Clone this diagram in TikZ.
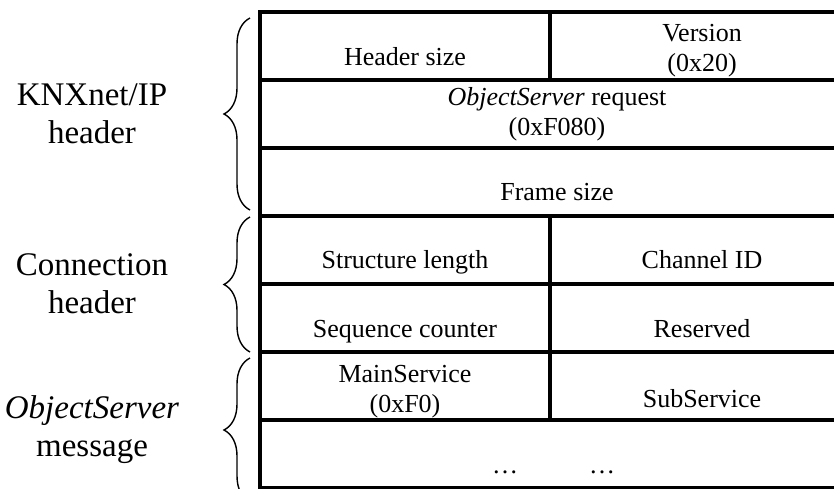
\documentclass[tikz,border=0pt]{standalone}
\usepackage{fontspec}
\setmainfont{Liberation Serif}
\usetikzlibrary{decorations.pathreplacing}
\tikzset{
  grid/.style={line width=3.5pt},
  cell/.style={font=\fontsize{26}{30}\selectfont,align=center},
  group/.style={font=\fontsize{33}{38}\selectfont,align=center},
  curly/.style={decorate,decoration={brace,amplitude=26pt},line width=1.4pt}
}
\begin{document}
\begin{tikzpicture}[x=1pt,y=-1pt]
\useasboundingbox (0,0) rectangle (834,488);
\draw[grid] (260,12) rectangle (854,488);
\foreach \y in {80,148,216,284,352,420}
  \draw[grid] (260,\y) -- (854,\y);
\draw[grid] (550,12) -- (550,80);
\draw[grid] (550,216) -- (550,420);

\node[cell,anchor=base] (hsize) at (405,65) {Header size};
\node[cell] (version) at (702,51) {Version\\(0x20)};
\node[cell] (request) at (557,114) {\textit{ObjectServer} request\\(0xF080)};
\node[cell,anchor=base] (fsize) at (557,200) {Frame size};
\node[cell,anchor=base] (slength) at (405,268) {Structure length};
\node[cell,anchor=base] (channel) at (702,268) {Channel ID};
\node[cell,anchor=base] (seq) at (405,337) {Sequence counter};
\node[cell,anchor=base] (reserved) at (702,337) {Reserved};
\node[cell] (mains) at (405,392) {MainService\\(0xF0)};
\node[cell,anchor=base] (subs) at (702,407) {SubService};
\node[cell,anchor=base] (dotsa) at (505,473) {\dots};
\node[cell,anchor=base] (dotsb) at (602,473) {\dots};

\draw[curly] (250,210) -- (250,18);
\draw[curly] (250,352) -- (250,217);
\draw[curly] (250,502) -- (250,358);
\node[group] (knx) at (92,114) {KNXnet/IP\\header};
\node[group] (conn) at (92,284) {Connection\\header};
\node[group] (osmsg) at (92,430) {\textit{ObjectServer}\\message};
\end{tikzpicture}
\end{document}
